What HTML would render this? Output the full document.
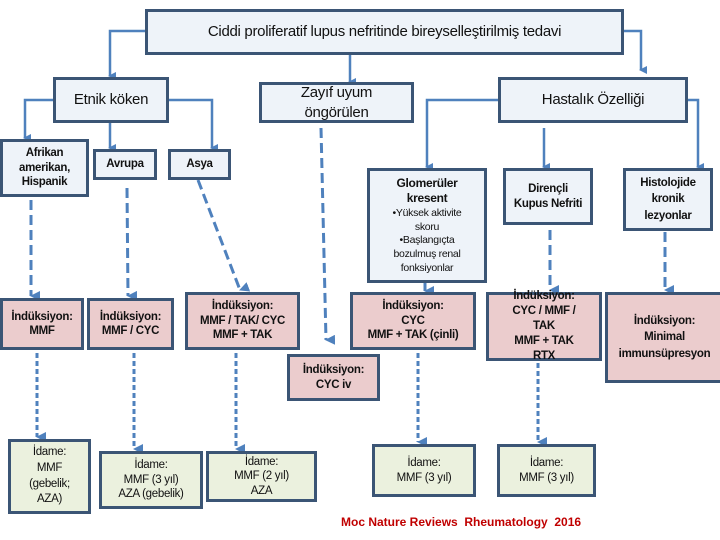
<!DOCTYPE html>
<html><head><meta charset="utf-8"><style>
body{margin:0;width:720px;height:540px;background:#fff;position:relative;overflow:hidden;font-family:"Liberation Sans Narrow","Liberation Sans",sans-serif;color:#111}
.b{position:absolute;box-sizing:border-box;border:3px solid #3b5575;display:flex;align-items:center;justify-content:center;text-align:center;line-height:1.25;font-size:11.5px;letter-spacing:-0.3px}
.bl{background:#eef3f9}.pk{background:#ebcccd;font-weight:bold}.gr{background:#ebf1de}
.bd{font-weight:bold}
svg{position:absolute;left:0;top:0}
</style></head><body>
<svg width="720" height="540">
<defs><marker id="a" markerWidth="8" markerHeight="8" refX="4" refY="6" orient="auto-start-reverse" markerUnits="userSpaceOnUse"><path d="M0,0 L8,0 L4,8 z" fill="#4f81bd"/></marker>
<marker id="d" viewBox="0 0 10 10" markerWidth="10" markerHeight="10" refX="5" refY="9" orient="auto" markerUnits="userSpaceOnUse"><path d="M0,0 L10,0 L5,10 z" fill="#4f81bd"/></marker></defs>
<g stroke="#4f81bd" stroke-width="2.5" fill="none">
<polyline points="145,31 110,31 110,76" marker-end="url(#a)"/>
<polyline points="350,55 350,82" marker-end="url(#a)"/>
<polyline points="623,31 641,31 641,70" marker-end="url(#a)"/>
<polyline points="53,100 25,100 25,138" marker-end="url(#a)"/>
<polyline points="110,122 110,148" marker-end="url(#a)"/>
<polyline points="168,100 212,100 212,148" marker-end="url(#a)"/>
<polyline points="498,100 427,100 427,167" marker-end="url(#a)"/>
<polyline points="544,128 544,167" marker-end="url(#a)"/>
<polyline points="688,100 698,100 698,167" marker-end="url(#a)"/>
</g>
<g stroke="#4f81bd" stroke-width="3" fill="none" stroke-dasharray="10,5">
<line x1="31" y1="200" x2="31" y2="296" marker-end="url(#d)"/>
<line x1="127" y1="188" x2="128" y2="296" marker-end="url(#d)"/>
<line x1="198" y1="180" x2="240" y2="290" marker-end="url(#d)"/>
<line x1="321" y1="128" x2="326" y2="340" marker-end="url(#d)"/>
<line x1="550" y1="230" x2="550" y2="290" marker-end="url(#d)"/>
<line x1="665" y1="232" x2="665" y2="290" marker-end="url(#d)"/>
</g>
<g stroke="#4f81bd" stroke-width="3" fill="none" stroke-dasharray="5,3">
<line x1="425" y1="283" x2="425" y2="291" stroke-dasharray="none" marker-end="url(#d)"/>
<line x1="37" y1="353" x2="37" y2="437" marker-end="url(#d)"/>
<line x1="134" y1="353" x2="134" y2="449" marker-end="url(#d)"/>
<line x1="236" y1="353" x2="236" y2="449" marker-end="url(#d)"/>
<line x1="418" y1="353" x2="418" y2="442" marker-end="url(#d)"/>
<line x1="538" y1="363" x2="538" y2="442" marker-end="url(#d)"/>
</g>
</svg>
<div class="b bl" style="left:145px;top:9px;width:479px;height:46px;font-size:15px">Ciddi proliferatif lupus nefritinde bireyselleştirilmiş tedavi</div>
<div class="b bl" style="left:53px;top:77px;width:116px;height:46px;font-size:15px">Etnik köken</div>
<div class="b bl" style="left:259px;top:82px;width:155px;height:41px;font-size:15px;line-height:1.3">Zayıf uyum<br>öngörülen</div>
<div class="b bl" style="left:498px;top:77px;width:190px;height:46px;font-size:15px">Hastalık Özelliği</div>
<div class="b bl bd" style="left:0;top:139px;width:89px;height:58px">Afrikan<br>amerikan,<br>Hispanik</div>
<div class="b bl bd" style="left:93px;top:149px;width:64px;height:31px">Avrupa</div>
<div class="b bl bd" style="left:168px;top:149px;width:63px;height:31px">Asya</div>
<div class="b bl" style="left:367px;top:168px;width:120px;height:115px;font-size:10.5px;line-height:1.3"><div><b style="font-size:12px">Glomerüler<br>kresent</b><br>•Yüksek aktivite<br>skoru<br>•Başlangıçta<br>bozulmuş renal<br>fonksiyonlar</div></div>
<div class="b bl bd" style="left:503px;top:168px;width:90px;height:57px">Dirençli<br>Kupus Nefriti</div>
<div class="b bl bd" style="left:623px;top:168px;width:90px;height:63px;line-height:1.4">Histolojide<br>kronik<br>lezyonlar</div>
<div class="b pk" style="left:0;top:298px;width:84px;height:52px">İndüksiyon:<br>MMF</div>
<div class="b pk" style="left:87px;top:298px;width:87px;height:52px">İndüksiyon:<br>MMF / CYC</div>
<div class="b pk" style="left:185px;top:292px;width:115px;height:58px">İndüksiyon:<br>MMF / TAK/ CYC<br>MMF + TAK</div>
<div class="b pk" style="left:287px;top:354px;width:93px;height:47px">İndüksiyon:<br>CYC iv</div>
<div class="b pk" style="left:350px;top:292px;width:126px;height:58px">İndüksiyon:<br>CYC<br>MMF + TAK (çinli)</div>
<div class="b pk" style="left:486px;top:292px;width:116px;height:69px;line-height:1.3">İndüksiyon:<br>CYC / MMF /<br>TAK<br>MMF + TAK<br>RTX</div>
<div class="b pk" style="left:605px;top:292px;width:119px;height:91px;line-height:1.4">İndüksiyon:<br>Minimal<br>immunsüpresyon</div>
<div class="b gr" style="left:8px;top:439px;width:83px;height:75px;line-height:1.35">İdame:<br>MMF<br>(gebelik;<br>AZA)</div>
<div class="b gr" style="left:99px;top:451px;width:104px;height:58px">İdame:<br>MMF (3 yıl)<br>AZA (gebelik)</div>
<div class="b gr" style="left:206px;top:451px;width:111px;height:51px">İdame:<br>MMF (2 yıl)<br>AZA</div>
<div class="b gr" style="left:372px;top:444px;width:104px;height:53px">İdame:<br>MMF (3 yıl)</div>
<div class="b gr" style="left:497px;top:444px;width:99px;height:53px">İdame:<br>MMF (3 yıl)</div>
<div style="position:absolute;left:341px;top:515px;font-size:12px;font-weight:bold;color:#c00000;white-space:nowrap">Moc Nature Reviews&nbsp; Rheumatology&nbsp; 2016</div>
</body></html>
